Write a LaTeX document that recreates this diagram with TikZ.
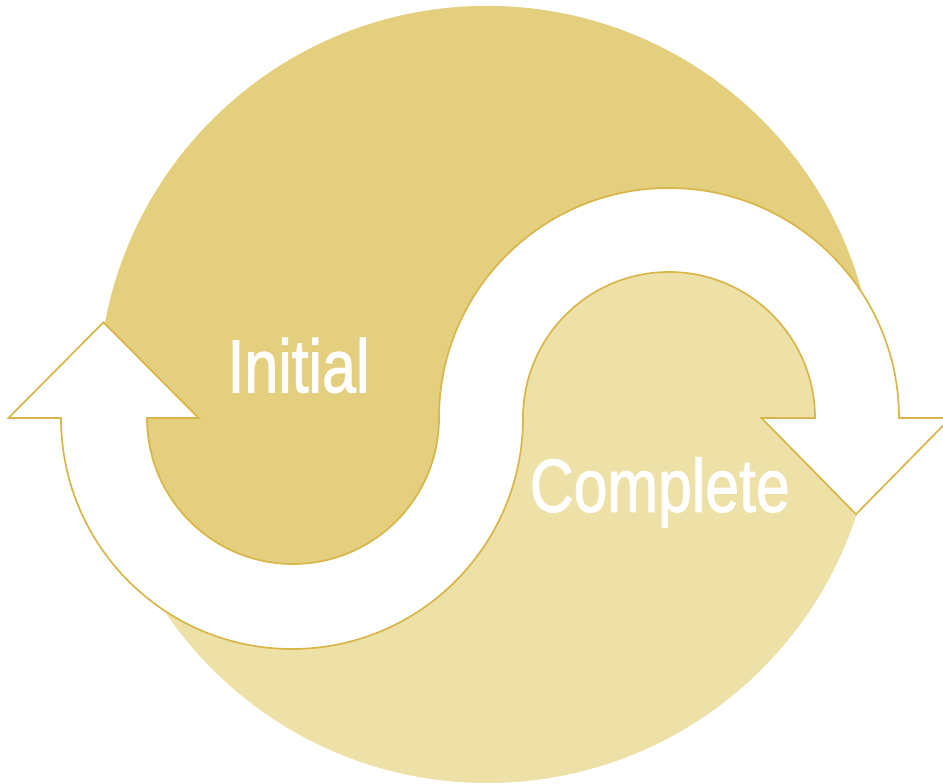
\documentclass[tikz,border=0pt]{standalone}
\usepackage{fontspec}
\setmainfont{Liberation Sans}
\newfontfamily\labelfont[FakeBold=1.5]{Liberation Sans}
\definecolor{darkgold}{HTML}{E3CF7D}
\definecolor{lightgold}{HTML}{EEE1A7}
\definecolor{edgegold}{HTML}{D8B64A}
\tikzset{
  cyclearrow/.style={fill=white, draw=edgegold, line width=1.7pt, line join=miter},
  phaselabel/.style={text=white, inner sep=0pt, anchor=base, font=\labelfont\fontsize{75}{80}\selectfont}
}
\begin{document}
\begin{tikzpicture}[x=1pt,y=1pt]
\useasboundingbox (0,0) rectangle (943,784);
% big circle split into two halves
\begin{scope}
  \clip (487,389.5) circle[radius=388.5pt];
  \fill[lightgold] (0,0) rectangle (943,784);
  \fill[darkgold] (-10,800) -- (-10,366) -- (104.5,366)
     arc[start angle=180, end angle=360, radius=188.5pt]
     arc[start angle=180, end angle=0, radius=188pt]
     -- (960,366) -- (960,800) -- cycle;
\end{scope}
% S-shaped double arrow
\coordinate (tipL) at (103.5,461.7);
\coordinate (tipR) at (856,269.7);
\path[cyclearrow] (tipL) -- (198.5,366) -- (147,366)
   arc[start angle=180, end angle=360, radius=146pt]
   arc[start angle=180, end angle=0, radius=230pt]
   -- (950.5,366) -- (tipR) -- (761.5,366) -- (815,366)
   arc[start angle=0, end angle=180, radius=146pt]
   arc[start angle=0, end angle=-180, radius=231pt]
   -- (8.5,366) -- cycle;
% labels
\node[phaselabel] (initial) at (298.5,391.7) {\scalebox{0.81}[1]{Initial}};
\node[phaselabel] (complete) at (659.8,272.3) {\scalebox{0.81}[1]{Complete}};
\end{tikzpicture}
\end{document}
